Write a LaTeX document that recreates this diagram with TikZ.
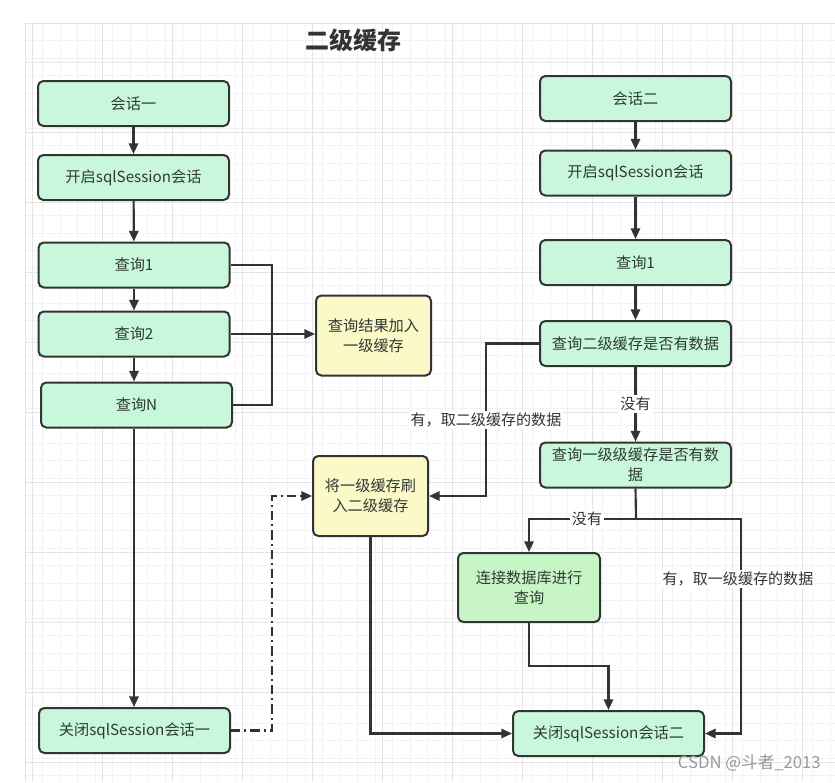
\documentclass[tikz,border=0pt]{standalone}
\usepackage{fontspec}
\setmainfont{Noto Sans CJK SC}
\usetikzlibrary{arrows.meta,calc}
\definecolor{mint}{HTML}{C9F7DC}
\definecolor{paleyel}{HTML}{FCF9C8}
\definecolor{dbgreen}{HTML}{C8F5C6}
\definecolor{edgec}{HTML}{333333}
\definecolor{txtc}{HTML}{2E3B34}
\definecolor{gridmin}{HTML}{F2F2F2}
\definecolor{gridmaj}{HTML}{E4E4E4}
\tikzset{
  box/.style={draw=edgec, line width=1.5pt, rounded corners=4pt, fill=mint,
    align=center, font=\fontsize{11.4pt}{15pt}\selectfont, text=txtc,
    inner sep=2pt},
  greenbox/.style={box, minimum width=143.25pt, minimum height=33.75pt},
  yelbox/.style={box, fill=paleyel, minimum width=86.25pt, minimum height=60pt},
  dbbox/.style={box, fill=dbgreen, minimum width=106.5pt, minimum height=51.75pt},
  conn/.style={draw=edgec, line width=1.6pt},
  arr/.style={conn, -{Triangle[length=8pt,width=7pt]}},
  lbl/.style={fill=white, inner sep=1.5pt, text=edgec, font=\fontsize{11.3pt}{13pt}\selectfont}
}
\begin{document}
\begin{tikzpicture}[x=0.75pt,y=-0.75pt]
\useasboundingbox (0,0) rectangle (835,782);
\fill[white] (0,0) rectangle (835,782);
% grid
\foreach \i in {0,...,46} {\draw[gridmin, line width=0.4pt] ({25+17.5*\i},23) -- ({25+17.5*\i},782);}
\foreach \i in {0,...,43} {\draw[gridmin, line width=0.4pt] (25,{23+17.5*\i}) -- (835,{23+17.5*\i});}
\foreach \xx in {32,102,...,802} {\draw[gridmaj, line width=0.6pt] (\xx,23) -- (\xx,782);}
\foreach \yy in {62,132,...,762} {\draw[gridmaj, line width=0.6pt] (25,\yy) -- (835,\yy);}
\draw[gridmaj, line width=0.6pt] (25,23) -- (835,23);
\draw[gridmaj, line width=0.6pt] (25,23) -- (25,782);

% title
\node[font=\bfseries\fontsize{18pt}{20pt}\selectfont, text=edgec] (title) at (353,40) {二级缓存};

% left column
\node[greenbox] (s1) at (133.5,103.5) {会话一};
\node[greenbox] (o1) at (133.5,177.5) {开启sqlSession会话};
\node[greenbox] (q11) at (134,265) {查询1};
\node[greenbox] (q12) at (134,334) {查询2};
\node[greenbox] (q1n) at (136.5,405) {查询N};
\node[yelbox] (add1) at (373.5,335.5) {查询结果加入\\一级缓存};
\node[yelbox] (flush) at (370.5,496) {将一级缓存刷\\入二级缓存};
\node[greenbox] (c1) at (134.5,730.5) {关闭sqlSession会话一};

% right column
\node[greenbox] (s2) at (635.5,98.5) {会话二};
\node[greenbox] (o2) at (635.5,173) {开启sqlSession会话};
\node[greenbox] (q21) at (635.5,262.5) {查询1};
\node[greenbox] (chk2) at (635.5,343.5) {查询二级缓存是否有数据};
\node[greenbox] (chk1) at (635.5,465) {查询一级级缓存是否有数\\据};
\node[dbbox] (db) at (529,587.5) {连接数据库进行\\查询};
\node[greenbox] (c2) at (608.5,733.5) {关闭sqlSession会话二};

% coordinates
\coordinate (j1) at (272,334);
\coordinate (d1) at (272,496);
\coordinate (d2) at (486,496);
\coordinate (sp) at (636,519);
\coordinate (rr) at (741,519);

% left edges
\draw[arr] (s1) -- (o1);
\draw[arr] (o1) -- (q11);
\draw[arr] (q11.south -| q12.north) -- (q12.north);
\draw[arr] (q12.south) -- (q12.south |- q1n.north);
\draw[arr] (q12.south |- q1n.south) -- (q12.south |- c1.north);
\draw[conn] (q11.east) -| (j1) |- (q1n.east);
\draw[arr] (q12.east) -- (q12.east -| add1.west);
\draw[arr, dash pattern=on 7pt off 3pt on 1.5pt off 3pt] (c1.east) -| (d1) -- (flush.west);

% right edges
\draw[arr] (s2) -- (o2);
\draw[arr] (o2) -- (q21);
\draw[arr] (q21) -- (chk2);
\draw[arr] (chk2) -- node[lbl] (l1) {没有} (chk1);
\draw[arr] (chk2.west) -| (d2) -- (flush.east);
\node[lbl] (l2) at (486,420) {有，取二级缓存的数据};
\draw[conn] (chk1.south) -- (sp);
\draw[arr] (sp) -| (db.north);
\node[lbl] (l3) at (587,519) {没有};
\draw[arr] (sp) -- (rr) |- (c2.east);
\node[lbl] (l4) at (738,579) {有，取一级缓存的数据};
\draw[arr] (db.south) -- ++(0,43) -| (c2.north);
\draw[arr] (flush.south) |- (c2.west);

% watermark
\node[anchor=east, text=gray!80, font=\fontsize{12.5pt}{14pt}\selectfont, inner sep=0pt] (wm) at (821,763) {CSDN @斗者\_2013};
\end{tikzpicture}
\end{document}
